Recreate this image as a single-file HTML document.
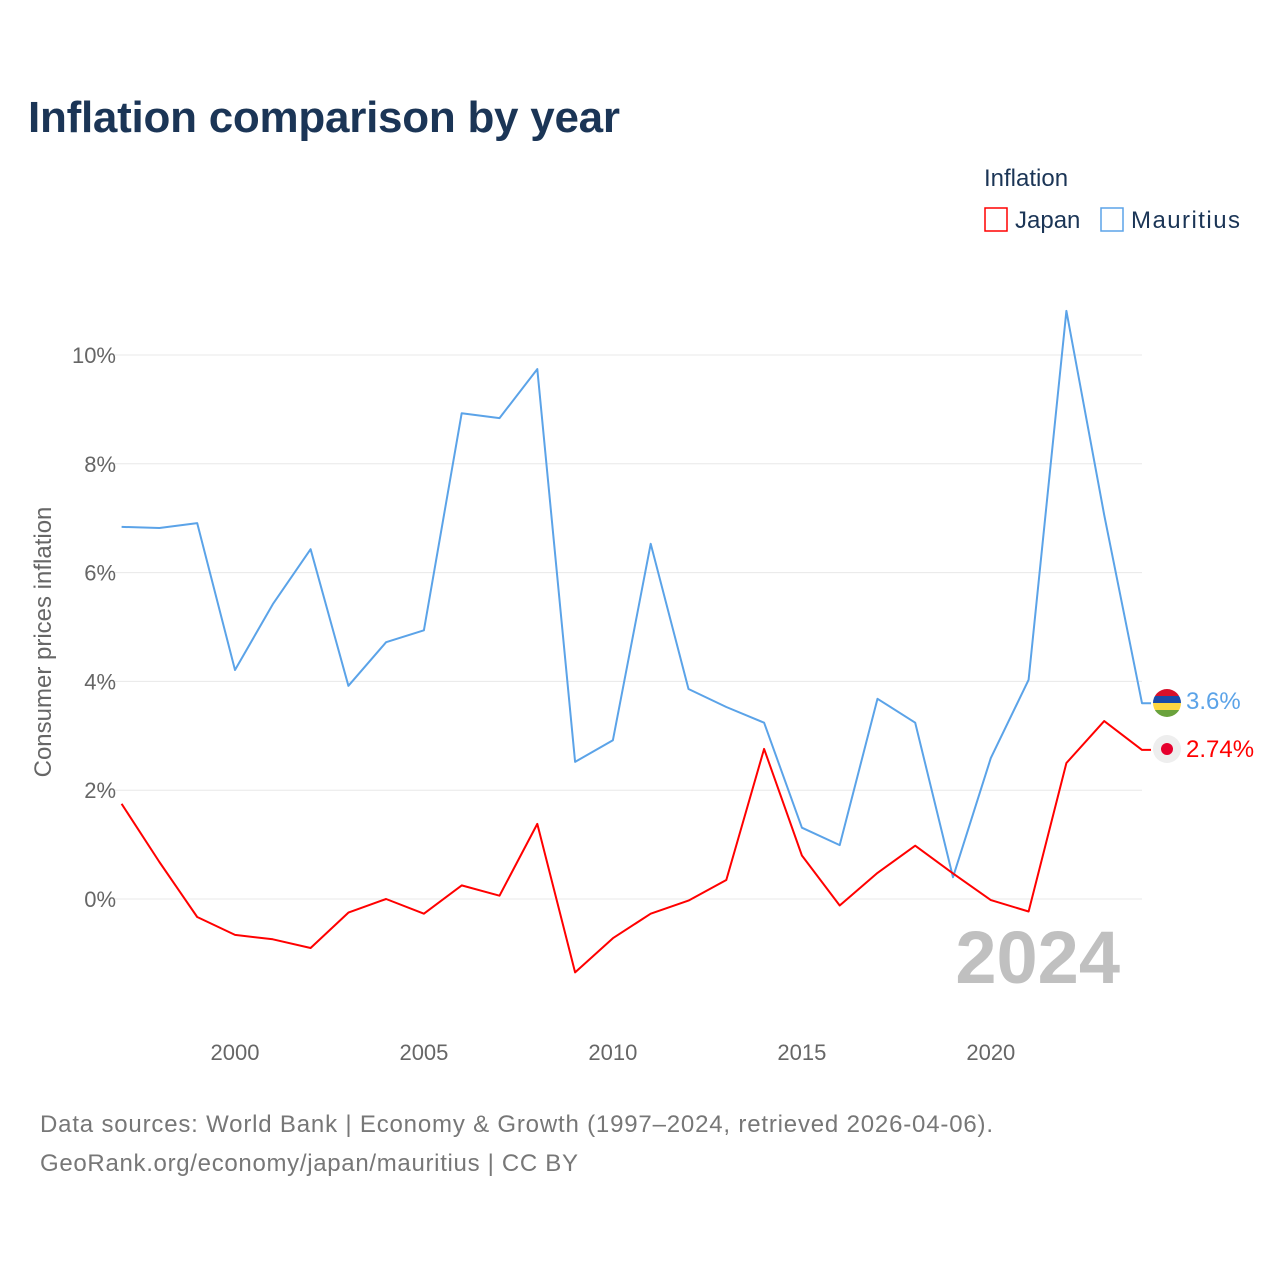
<!DOCTYPE html>
<html><head><meta charset="utf-8"><style>
body{margin:0;background:#fff;font-family:"Liberation Sans",sans-serif}
svg text{font-family:"Liberation Sans",sans-serif}
</style></head><body>
<svg width="1280" height="1280" viewBox="0 0 1280 1280">
<text x="28" y="132" font-size="44" font-weight="bold" fill="#1b3556" textLength="592">Inflation comparison by year</text>
<text x="984" y="186" font-size="24" fill="#1b3556">Inflation</text>
<g><rect x="985" y="208" width="22" height="23" fill="none" stroke="#ff0000" stroke-width="1.5"/><text x="1015" y="228" font-size="24" fill="#1b3556">Japan</text></g>
<g><rect x="1101" y="208" width="22" height="23" fill="none" stroke="#5ba3e8" stroke-width="1.5"/><text x="1131" y="228" font-size="24" fill="#1b3556" textLength="109">Mauritius</text></g>
<g id="grid"></g>
<g id="yticks"></g>
<g id="xticks"></g>
<text transform="translate(51,642) rotate(-90)" text-anchor="middle" font-size="24" fill="#666">Consumer prices inflation</text>
<text x="1120" y="983" text-anchor="end" font-size="74" font-weight="bold" fill="#c0c0c0">2024</text>
<g id="series"></g>
<g>
<clipPath id="cm"><circle cx="1167" cy="703" r="14"/></clipPath>
<g clip-path="url(#cm)"><rect x="1153" y="689" width="28" height="7" fill="#d8102a"/><rect x="1153" y="696" width="28" height="7" fill="#1a4aa8"/><rect x="1153" y="703" width="28" height="7" fill="#ffd640"/><rect x="1153" y="710" width="28" height="7" fill="#6aa23c"/></g></g>
<g><circle cx="1167" cy="749" r="14" fill="#eee"/><circle cx="1167" cy="749" r="6" fill="#e6002d"/></g>
<text id="lblM" x="1186" y="709" font-size="24" fill="#5ba3e8">3.6%</text>
<text id="lblJ" x="1186" y="757" font-size="24" fill="#ff0000">2.74%</text>
<text x="40" y="1132" font-size="24" fill="#777" textLength="953">Data sources: World Bank | Economy &amp; Growth (1997–2024, retrieved 2026-04-06).</text>
<text x="40" y="1171" font-size="24" fill="#777" textLength="538">GeoRank.org/economy/japan/mauritius | CC BY</text>
</svg>
<script>
const years=[1997,1998,1999,2000,2001,2002,2003,2004,2005,2006,2007,2008,2009,2010,2011,2012,2013,2014,2015,2016,2017,2018,2019,2020,2021,2022,2023,2024];
const mauritius=[6.84,6.82,6.91,4.21,5.42,6.43,3.92,4.72,4.94,8.93,8.84,9.74,2.52,2.92,6.53,3.86,3.53,3.24,1.31,0.99,3.68,3.24,0.40,2.59,4.03,10.81,7.06,3.6];
const japan=[1.75,0.68,-0.33,-0.66,-0.74,-0.90,-0.25,0,-0.27,0.25,0.06,1.38,-1.35,-0.72,-0.27,-0.03,0.35,2.76,0.80,-0.12,0.48,0.98,0.47,-0.02,-0.23,2.50,3.27,2.74];
const yTicks=[0,2,4,6,8,10];
const xTicks=[2000,2005,2010,2015,2020];
const NS="http://www.w3.org/2000/svg";
const x=v=>121.6+(v-1997)*(1142-121.6)/27;
const y=v=>899-v*54.4;
function mk(t,a,p){const e=document.createElementNS(NS,t);for(const k in a)e.setAttribute(k,a[k]);p.appendChild(e);return e;}
const grid=document.getElementById('grid'),yt=document.getElementById('yticks'),xt=document.getElementById('xticks'),ser=document.getElementById('series');
yTicks.forEach(v=>{
 const l=mk('line',{x1:115,x2:1142,y1:y(v),y2:y(v),stroke:'#e8e8e8','stroke-width':1},grid);
 
 
 const t=mk('text',{x:116,y:y(v)+8,'text-anchor':'end','font-size':22,fill:'#666'},yt);t.textContent=v+'%';
 
 
});
xTicks.forEach(v=>{
 const t=mk('text',{x:x(v),y:1060,'text-anchor':'middle','font-size':22,fill:'#666'},xt);t.textContent=v;
 
 
});
function line(vals,color,name){
 let d=vals.map((v,i)=>(i?'L':'M')+x(years[i]).toFixed(1)+','+y(v).toFixed(1)).join(' ');
 d+=' L'+(x(years[years.length-1])+9)+','+y(vals[vals.length-1]).toFixed(1);
 const p=mk('path',{d:d,fill:'none',stroke:color,'stroke-width':2,'stroke-linejoin':'round'},ser);
 
 
}
line(mauritius,'#5ba3e8','mauritius-line');
line(japan,'#ff0000','japan-line');
document.getElementById('lblM').textContent=mauritius[mauritius.length-1]+'%';
document.getElementById('lblJ').textContent=japan[japan.length-1]+'%';
</script>
</body></html>
